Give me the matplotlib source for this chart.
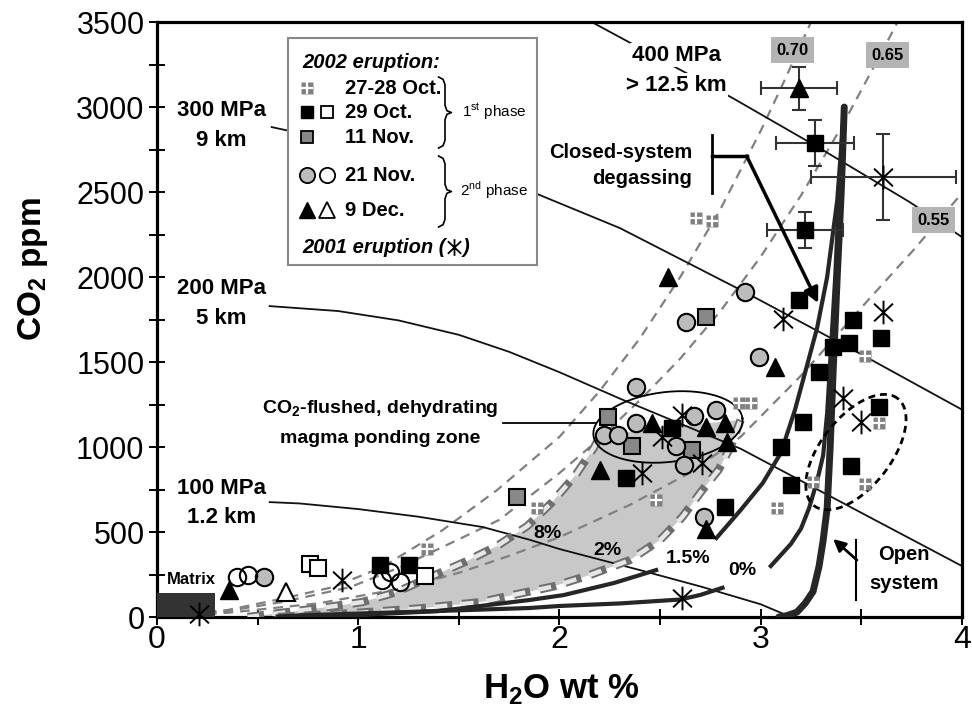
import numpy as np
import matplotlib
matplotlib.use('Agg')
import matplotlib.pyplot as plt
from matplotlib.path import Path
from matplotlib.patches import Rectangle

plt.rcParams['font.family'] = ['Liberation Sans', 'DejaVu Sans']
plt.rcParams['lines.scale_dashes'] = False

# ---------------- data (H2O wt %, CO2 ppm) ----------------
# isobars
iso100_x = [0.56, 0.71, 1.0, 1.3, 1.62, 1.85, 2.0, 2.4, 2.7, 3.0, 3.13]
iso100_y = [676, 668, 635, 590, 529, 455, 400, 276, 180, 75, 10]
iso200_x = [0.56, 0.9, 1.2, 1.5, 1.75, 2.0, 2.3, 2.9, 3.54, 4.0]
iso200_y = [1829, 1800, 1745, 1660, 1560, 1440, 1285, 990, 588, 300]
iso300_x = [0.57, 1.2, 1.89, 2.30, 2.92, 3.5, 4.0]
iso300_y = [2882, 2720, 2488, 2288, 1912, 1545, 1220]
iso400_x = [2.16, 2.86, 3.29, 3.74, 4.0]
iso400_y = [3500, 3053, 2760, 2441, 2235]

# gas composition isopleths
x70 = [0, 0.35, 0.63, 0.875, 1.12, 1.42, 1.69, 2.0, 2.2, 2.4, 2.6, 2.8, 3.0, 3.1, 3.2, 3.25]
y70 = [0, 41, 110, 176, 294, 512, 747, 1060, 1330, 1640, 2000, 2400, 2860, 3110, 3370, 3500]
x65 = [0, 0.35, 0.63, 0.96, 1.21, 1.46, 1.70, 2.0, 2.2, 2.4, 2.6, 2.8, 3.0, 3.2, 3.4, 3.6, 3.68]
y65 = [0, 35, 90, 176, 294, 435, 571, 847, 1050, 1276, 1520, 1800, 2120, 2480, 2880, 3320, 3500]
x55 = [0, 0.35, 0.8, 1.2, 1.5, 1.75, 2.0, 2.35, 2.65, 2.9, 3.2, 3.5, 3.76, 4.0]
y55 = [0, 25, 80, 165, 260, 360, 470, 660, 850, 1060, 1420, 1820, 2160, 2494]

# CO2-flushing paths (8 % and 2 %)
f8_x = [0.45, 0.71, 0.85, 1.02, 1.19, 1.37, 1.53, 1.69, 1.84, 1.96, 2.08, 2.17, 2.20]
f8_y = [0, 38, 59, 88, 147, 241, 324, 418, 535, 671, 835, 994, 1060]
f2_x = [0.6, 1.0, 1.3, 1.61, 1.79, 1.97, 2.15, 2.35, 2.50, 2.61, 2.71, 2.79, 2.85, 2.90]
f2_y = [0, 25, 50, 88, 135, 180, 247, 335, 453, 588, 747, 865, 1000, 1159]
zone_top_x = [2.45, 2.90]
zone_top_y = [1110, 1159]

# degassing curves
open_x = [3.09, 3.13, 3.18, 3.22, 3.26, 3.29, 3.31, 3.33, 3.345, 3.36, 3.38, 3.40, 3.415]
open_y = [0, 8, 29, 80, 150, 300, 450, 640, 1000, 1450, 2000, 2500, 3000]
c0_x = [3.415, 3.39, 3.37, 3.345, 3.33, 3.31, 3.28, 3.24, 3.20, 3.15, 3.10, 3.05]
c0_y = [3000, 2500, 2000, 1500, 1200, 950, 800, 640, 520, 430, 365, 300]
c0t_x = [0.6, 0.71, 1.2, 1.85, 2.0, 2.3, 2.60, 2.70, 2.81]
c0t_y = [3, 10, 28, 53, 65, 80, 103, 130, 172]
c15_x = [3.415, 3.38, 3.33, 3.28, 3.23, 3.17, 3.10, 3.01, 2.90, 2.78]
c15_y = [3000, 2450, 2000, 1700, 1480, 1218, 965, 788, 629, 465]
c15t_x = [0.7, 1.0, 1.4, 1.85, 2.02, 2.27, 2.48]
c15t_y = [3, 12, 35, 100, 129, 200, 276]

# 2002 eruption, 29 Oct (filled / open squares)
sq29_x = [3.27, 3.22, 3.19, 3.46, 3.36, 3.44, 3.60, 3.29, 3.59, 3.21, 3.10, 3.45, 3.15, 2.82, 2.33, 2.56, 1.11, 1.25]
sq29_y = [2790, 2276, 1865, 1747, 1588, 1612, 1641, 1441, 1235, 1147, 1000, 888, 776, 647, 818, 1112, 306, 306]
sq29o_x = [0.76, 0.80, 1.33]
sq29o_y = [312, 288, 241]
# 11 Nov
sq11_x = [2.73, 1.79, 2.24, 2.36, 2.66]
sq11_y = [1765, 706, 1176, 1006, 982]
# 21 Nov (grey / open circles)
ci21_x = [2.92, 2.63, 2.99, 2.38, 2.22, 2.29, 2.38, 2.58, 2.62, 2.67, 2.78, 2.72, 0.53]
ci21_y = [1912, 1735, 1529, 1353, 1071, 1071, 1141, 1006, 894, 1182, 1218, 588, 235]
ci21o_x = [0.40, 0.45, 1.12, 1.16, 1.21]
ci21o_y = [235, 247, 218, 262, 206]
# 9 Dec (filled / open triangles)
tr9_x = [3.19, 2.54, 3.07, 2.46, 2.73, 2.82, 2.83, 2.20, 2.73, 0.36]
tr9_y = [3110, 2000, 1471, 1141, 1118, 1141, 1029, 865, 518, 159]
tr9o_x = [0.64]
tr9o_y = [147]
# 27-28 Oct
gr27_x = [2.68, 2.76, 3.52, 3.59, 2.89, 2.95, 3.26, 3.52, 3.08, 2.48, 1.89, 1.34]
gr27_y = [2347, 2329, 1535, 1141, 1259, 1259, 794, 782, 641, 688, 641, 400]
# 2001 eruption
ast01_x = [3.61, 3.11, 3.61, 3.41, 3.50, 2.61, 2.51, 2.71, 2.41, 2.61, 0.92, 0.21]
ast01_y = [2588, 1753, 1794, 1288, 1147, 1188, 1059, 906, 847, 110, 218, 20]

# error bars
err_x = [3.19, 3.27, 3.61, 3.22]
err_y = [3110, 2790, 2588, 2276]
err_dx = [0.19, 0.195, 0.36, 0.19]
err_dy = [127, 135, 253, 108]

DARK = '#262626'
GREY = '#808080'

fig = plt.figure(figsize=(9.72, 7.13), dpi=100)
ax = fig.add_axes([0.1615, 0.1346, 0.8282, 0.8345])
ax.set_xlim(0, 4)
ax.set_ylim(0, 3500)

# px per data unit (for ellipses drawn in screen shape)
PX_X = 0.8282 * 972 / 4.0
PX_Y = 0.8345 * 713 / 3500.0


def ellipse_pts(cx, cy, a, b, ang):
    t = np.linspace(0, 2 * np.pi, 200)
    th = np.radians(ang)
    u = a * np.cos(t) * np.cos(th) - b * np.sin(t) * np.sin(th)
    v = a * np.cos(t) * np.sin(th) + b * np.sin(t) * np.cos(th)
    return cx + u / PX_X, cy + v / PX_Y


# shaded ponding zone
ax.fill(f8_x + zone_top_x + f2_x[::-1], f8_y + zone_top_y + f2_y[::-1],
        color='#c8c8c8', lw=0, zorder=1)

# isopleths
for xs, ys in [(x70, y70), (x65, y65), (x55, y55)]:
    ax.plot(xs, ys, color=GREY, lw=1.6, ls=(0, (7, 5)), zorder=2)

# isobars
for xs, ys in [(iso100_x, iso100_y), (iso200_x, iso200_y), (iso300_x, iso300_y), (iso400_x, iso400_y)]:
    ax.plot(xs, ys, color='#111111', lw=1.3, zorder=2)

# hatched flushing paths
for xs, ys in [(f8_x, f8_y), (f2_x, f2_y)]:
    ax.plot(xs, ys, color='#6e6e6e', lw=6, ls=(0, (12, 7)), solid_capstyle='butt', zorder=3)
    ax.plot(xs, ys, color='#e6e6e6', lw=3.2, ls=(1.2, (9.6, 9.4)), zorder=3)

# degassing curves
ax.plot(open_x, open_y, color=DARK, lw=5, zorder=3, solid_capstyle='round')
for xs, ys in [(c0_x, c0_y), (c0t_x, c0t_y), (c15_x, c15_y), (c15t_x, c15t_y)]:
    ax.plot(xs, ys, color=DARK, lw=3, zorder=3)

# matrix glass
ax.add_patch(Rectangle((0, 0), 0.29, 140, fc='#333333', ec='none', zorder=3))

# ellipses
ex, ey = ellipse_pts(2.539, 1118, 75, 35, 6.5)
ax.plot(ex, ey, color='black', lw=1.3, zorder=4)
ex, ey = ellipse_pts(3.473, 970, 68, 35, 52)
ax.plot(ex, ey, color='black', lw=2, ls=(0, (5, 3.5)), zorder=4)

# markers
star = Path([(0, -1), (0, 1), (-0.8, -0.75), (0.8, 0.75), (-0.8, 0.75), (0.8, -0.75)],
            [Path.MOVETO, Path.LINETO] * 3)

ax.errorbar(err_x, err_y, xerr=err_dx, yerr=err_dy, fmt='none', ecolor='#333333',
            elinewidth=1.5, capsize=5, capthick=1.5, zorder=4)


def grid_marker(xs, ys, ms=8, **kw):
    ax.plot(xs, ys, 's', ms=ms, mfc=GREY, mec='none', ls='none', zorder=5, **kw)
    ax.plot(xs, ys, '+', ms=ms + 0.5, mew=1.6, mec='white', ls='none', zorder=5, **kw)


grid_marker(gr27_x, gr27_y)
ax.plot(sq29_x, sq29_y, 's', ms=11.5, mfc='black', mec='black', ls='none', zorder=5)
ax.plot(sq29o_x, sq29o_y, 's', ms=11.5, mfc='white', mec='black', mew=1.5, ls='none', zorder=5)
ax.plot(sq11_x, sq11_y, 's', ms=11.5, mfc='#888888', mec='black', mew=1.5, ls='none', zorder=5)
ax.plot(ci21_x, ci21_y, 'o', ms=12.5, mfc='#bcbcbc', mec='black', mew=1.5, ls='none', zorder=5)
ax.plot(ci21o_x, ci21o_y, 'o', ms=12.5, mfc='none', mec='black', mew=1.5, ls='none', zorder=5)
ax.plot(tr9_x, tr9_y, '^', ms=12.5, mfc='black', mec='black', ls='none', zorder=5)
ax.plot(tr9o_x, tr9o_y, '^', ms=12.5, mfc='white', mec='black', mew=1.5, ls='none', zorder=5)
ax.plot(ast01_x, ast01_y, marker=star, ms=17, mec='black', mew=1.4, ls='none', zorder=5,
        clip_on=False)

# isobar labels
bold = dict(fontweight='bold', ha='center', va='center', zorder=7)
ax.text(0.32, 2982, '300 MPa', fontsize=16, **bold)
ax.text(0.32, 2806, '9 km', fontsize=16, **bold)
ax.text(0.32, 1935, '200 MPa', fontsize=16, **bold)
ax.text(0.32, 1759, '5 km', fontsize=16, **bold)
ax.text(0.32, 759, '100 MPa', fontsize=16, **bold)
ax.text(0.32, 588, '1.2 km', fontsize=16, **bold)
ax.text(2.58, 3306, '400 MPa', fontsize=16, bbox=dict(fc='white', ec='none', pad=1), **bold)
ax.text(2.58, 3129, '> 12.5 km', fontsize=16, bbox=dict(fc='white', ec='none', pad=1), **bold)

# isopleth labels
for xx, yy, s in [(3.16, 3335, '0.70'), (3.63, 3306, '0.65'), (3.86, 2335, '0.55')]:
    ax.text(xx, yy, s, fontsize=12, bbox=dict(fc='#b4b4b4', ec='none', pad=4), **bold)

# path labels
for xx, yy, s in [(1.94, 494, '8%'), (2.24, 394, '2%'), (2.64, 347, '1.5%'), (2.91, 276, '0%')]:
    ax.text(xx, yy, s, fontsize=14, **bold)
ax.text(0.17, 218, 'Matrix', fontsize=12, **bold)

# closed-system annotation
ax.text(2.66, 2735, 'Closed-system', fontsize=14.5, fontweight='bold', ha='right', va='center', zorder=7)
ax.text(2.66, 2582, 'degassing', fontsize=14.5, fontweight='bold', ha='right', va='center', zorder=7)
ax.plot([2.76, 2.76], [2494, 2835], color='black', lw=2, zorder=6)
ax.plot([2.76, 2.93], [2712, 2712], color='black', lw=2.5, zorder=6)
ax.annotate('', xy=(3.285, 1847), xytext=(2.93, 2712),
            arrowprops=dict(arrowstyle='-|>', lw=2.5, color='black', mutation_scale=22,
                            shrinkA=0, shrinkB=0), zorder=6)

# open-system annotation
ax.text(3.71, 365, 'Open', fontsize=14.5, **bold)
ax.text(3.71, 200, 'system', fontsize=14.5, **bold)
ax.plot([3.475, 3.475], [100, 453], color='black', lw=1.5, zorder=6)
ax.annotate('', xy=(3.36, 459), xytext=(3.478, 335),
            arrowprops=dict(arrowstyle='-|>', lw=2, color='black', mutation_scale=18,
                            shrinkA=0, shrinkB=0), zorder=6)

# ponding zone label
ax.text(1.11, 1229, 'CO$_\\mathregular{2}$-flushed, dehydrating', fontsize=14, **bold)
ax.text(1.11, 1053, 'magma ponding zone', fontsize=14, **bold)
ax.plot([1.72, 2.18], [1141, 1141], color='black', lw=1.3, zorder=4)

# ---------------- legend box ----------------
T = ax.transAxes
ax.add_patch(Rectangle((0.1627, 0.5916), 0.3093, 0.3815, transform=T, fc='white',
                       ec='#888888', lw=1.5, zorder=8))
lt = dict(transform=T, fontsize=14.5, fontweight='bold', va='center', ha='left', zorder=9)
ax.text(0.180, 0.9328, '2002 eruption:', style='italic', **lt)
rows = [0.889, 0.8487, 0.8067, 0.7429, 0.684]
c1, c2, ct = 0.1863, 0.2112, 0.2335
ax.text(ct, rows[0], '27-28 Oct.', **lt)
ax.text(ct, rows[1], '29 Oct.', **lt)
ax.text(ct, rows[2], '11 Nov.', **lt)
ax.text(ct, rows[3], '21 Nov.', **lt)
ax.text(ct, rows[4], '9 Dec.', **lt)
mk = dict(transform=T, ls='none', zorder=9, clip_on=False)
ax.plot([c1], [rows[0]], 's', ms=8, mfc=GREY, mec='none', **mk)
ax.plot([c1], [rows[0]], '+', ms=8.5, mew=1.6, mec='white', **mk)
ax.plot([c1], [rows[1]], 's', ms=9, mfc='black', mec='black', **mk)
ax.plot([c2], [rows[1]], 's', ms=9, mfc='white', mec='black', mew=1.3, **mk)
ax.plot([c1], [rows[2]], 's', ms=9, mfc='#888888', mec='black', mew=1.3, **mk)
ax.plot([c1], [rows[3]], 'o', ms=11, mfc='#bcbcbc', mec='black', mew=1.3, **mk)
ax.plot([c2], [rows[3]], 'o', ms=11, mfc='white', mec='black', mew=1.3, **mk)
ax.plot([c1], [rows[4]], '^', ms=11, mfc='black', mec='black', **mk)
ax.plot([c2], [rows[4]], '^', ms=11, mfc='white', mec='black', mew=1.3, **mk)


def brace(x, y_top, y_bot, w=0.008):
    ym = 0.5 * (y_top + y_bot)
    bx = [x - w, x - 0.3 * w, x, x, x + 0.3 * w, x + w, x + 0.3 * w, x, x, x - 0.3 * w, x - w]
    by = [y_top, y_top - 0.004, y_top - 0.013, ym + 0.012, ym + 0.003, ym,
          ym - 0.003, ym - 0.012, y_bot + 0.013, y_bot + 0.004, y_bot]
    ax.plot(bx, by, color='black', lw=1.2, transform=T, zorder=9, clip_on=False)


brace(0.3578, 0.9076, 0.7882)
brace(0.3578, 0.7748, 0.6555)
ax.text(0.379, 0.8487, '1$^\\mathregular{st}$ phase', transform=T, fontsize=11,
        va='center', ha='left', zorder=9)
ax.text(0.3764, 0.7176, '2$^\\mathregular{nd}$ phase', transform=T, fontsize=11,
        va='center', ha='left', zorder=9)

t01 = ax.text(0.180, 0.6218, '2001 eruption (', style='italic', **lt)
fig.canvas.draw()
bb = t01.get_window_extent().transformed(T.inverted())
ax.plot([bb.x1 + 0.011], [0.6218], marker=star, ms=12, mec='black', mew=1.3, **mk)
ax.text(bb.x1 + 0.021, 0.6218, ')', style='italic', **lt)

# ---------------- axes ----------------
for sp in ax.spines.values():
    sp.set_linewidth(2.3)
ax.set_xticks([0, 1, 2, 3, 4])
ax.set_xticks(np.arange(0, 4.01, 0.5), minor=True)
ax.set_yticks(np.arange(0, 3501, 500))
ax.set_yticks(np.arange(0, 3501, 250), minor=True)
ax.tick_params(which='both', direction='inout', length=12, width=1.4, top=False, right=False)
ax.tick_params(axis='y', labelsize=22, pad=3)
ax.tick_params(axis='x', labelsize=23, pad=0)

ax.set_xlabel('H$_\\mathregular{2}$O wt %', fontsize=25, fontweight='bold')
ax.set_ylabel('CO$_\\mathregular{2}$ ppm', fontsize=24, fontweight='bold')
ax.xaxis.set_label_coords(0.503, -0.092)
ax.yaxis.set_label_coords(-0.133, 0.585)

fig.savefig('out.png', dpi=100)
